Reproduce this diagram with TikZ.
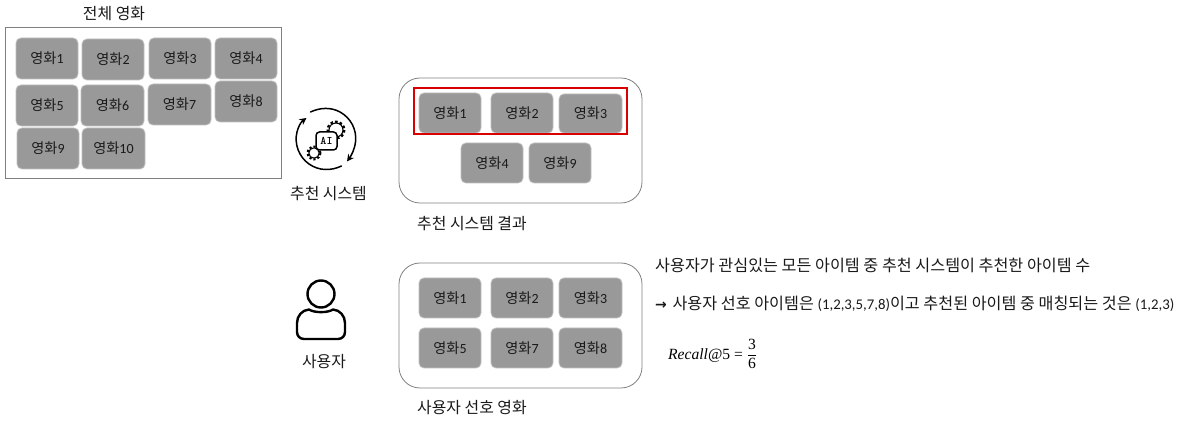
\documentclass[tikz,border=0pt]{standalone}
\usepackage{fontspec}
\usetikzlibrary{arrows.meta}
\setmainfont{Carlito}
\newfontfamily\kr{Noto Sans CJK KR}
\newfontfamily\cam{Liberation Serif}
\newcommand{\movie}[1]{{\fontsize{14.2}{16}\selectfont\kr 영화\fontsize{14}{16}\selectfont\normalfont #1}}
\tikzset{
  x=1pt,y=-1pt,
  moviebox/.style={draw=black!25,line width=0.8pt,fill=black!40,rounded corners=5pt,inner sep=0pt},
  movielabel/.style={inner sep=0pt,text=black!90},
  panel/.style={draw=black!50,line width=0.8pt,rounded corners=21pt,fill=white},
  caption/.style={inner sep=0pt,font=\fontsize{15.9}{18}\selectfont\kr,text=black!90},
  bodytext/.style={inner sep=0pt,anchor=west,font=\fontsize{16.2}{18}\selectfont\kr,text=black!90},
  icon/.style={line width=1.5pt,black,line cap=round,line join=round},
}
\newcommand{\mv}[6]{% name, x1,y1,x2,y2, label
  \node[moviebox,minimum width=#4pt-#2pt,minimum height=#5pt-#3pt] (#1) at ({(#2+#4)/2},{(#3+#5)/2}) {};
  \node[movielabel] (#1t) at (#1.center) {\movie{#6}};
}
\newcommand{\nums}[1]{{\normalfont\fontsize{14.8}{16}\selectfont #1}}
\begin{document}
\begin{tikzpicture}
\useasboundingbox (0,0) rectangle (1181,427);
% whole catalogue
\node[inner sep=0pt,minimum width=276.5pt,minimum height=151pt,draw=black!50,line width=0.8pt] (all) at (143.3,103) {};
\node[caption] (allcap) at (114,14) {전체 영화};
\mv{a1}{16}{38}{78}{79}{1}
\mv{a2}{82}{39}{144}{80}{2}
\mv{a3}{149}{38}{211}{79}{3}
\mv{a4}{215}{38}{277}{79}{4}
\mv{a5}{16}{85}{78}{126}{5}
\mv{a6}{81}{85}{144}{126}{6}
\mv{a7}{148}{84}{211}{125}{7}
\mv{a8}{215}{81}{277}{122}{8}
\mv{a9}{17}{128}{79}{169}{9}
\mv{a10}{82}{128}{145}{169}{10}
% AI icon
\begin{scope}[icon]
  \draw[-{Stealth[length=7pt,width=7pt]}] (310.5,112) .. controls (320,107.5) and (331,107) .. (340,112) .. controls (351,118) and (357,130) .. (355.5,142) .. controls (354.5,150) and (351,156) .. (347,161.5);
  \draw[-{Stealth[length=7pt,width=7pt]}] (341.5,166) .. controls (331,171) and (319,171) .. (309,164) .. controls (299,157) and (294,144) .. (297,132) .. controls (298.5,126) and (301,122) .. (306.5,118);
  % gears
  \draw[line width=2.2pt,line cap=butt,dash pattern=on 2.6pt off 2.2pt] (336,130) circle (8.4);
  \draw[line width=1.1pt,fill=white] (336,130) circle (7);
  \draw[line width=2pt,line cap=butt,dash pattern=on 2.2pt off 2pt] (314,153) circle (6.4);
  \draw[line width=1.1pt,fill=white] (314,153) circle (5.2);
  \draw[fill=white,rounded corners=3.5pt] (316,132) rectangle (337,150);
  \node[inner sep=0pt,font=\fontsize{11.5}{12}\selectfont\bfseries\ttfamily] (ai) at (326.5,141) {AI};
\end{scope}
\node[caption] (reccap) at (328.5,194) {추천 시스템};
% recommendation panel
\draw[panel] (399,78) rectangle (642,203);
\mv{r1}{419}{93}{481}{133}{1}
\mv{r2}{491}{93}{553}{133}{2}
\mv{r3}{559}{94}{622}{133}{3}
\mv{r4}{461}{143}{523}{183}{4}
\mv{r9}{529}{143}{591}{183}{9}
\draw[red!85!black,line width=1.4pt] (414,88) rectangle (627,134);
\node[caption,anchor=west] (rescap) at (417,224) {추천 시스템 결과};
% user icon
\begin{scope}[icon,line width=2.4pt]
  \draw (321,294) circle (13.5);
  \draw (309,309.5) .. controls (314,313) and (328,313) .. (333,309.5) .. controls (340,310) and (345,316) .. (345,323) -- (345,332) .. controls (345,336) and (342,339) .. (338,339) -- (304,339) .. controls (300,339) and (297,336) .. (297,332) -- (297,323) .. controls (297,316) and (302,310) .. (309,309.5) -- cycle;
\end{scope}
\node[caption] (usercap) at (324,362) {사용자};
% preference panel
\draw[panel] (399,263) rectangle (642,388);
\mv{p1}{419}{278}{481}{318}{1}
\mv{p2}{491}{278}{553}{318}{2}
\mv{p3}{559}{278}{622}{318}{3}
\mv{p5}{419}{328}{481}{368}{5}
\mv{p7}{491}{328}{553}{368}{7}
\mv{p8}{559}{328}{622}{368}{8}
\node[caption,anchor=west] (prefcap) at (417,408) {사용자 선호 영화};
% explanation
\node[bodytext] (t1) at (655,265) {사용자가 관심있는 모든 아이템 중 추천 시스템이 추천한 아이템 수};
\node[bodytext] (t2) at (655,304) {{\fontspec{DejaVu Sans}\fontsize{14}{16}\selectfont\bfseries →}\hspace{2pt} 사용자 선호 아이템은 \nums{(1,2,3,5,7,8)}이고 추천된 아이템 중 매칭되는 것은 \nums{(1,2,3)}};
\node[inner sep=0pt,anchor=west,font=\fontsize{15.6}{18}\selectfont\cam] (t3) at (668,354) {\textit{Recall}@5 =\hspace{4pt}$\displaystyle\frac{\mbox{\cam 3}}{\mbox{\cam 6}}$};
\end{tikzpicture}
\end{document}
